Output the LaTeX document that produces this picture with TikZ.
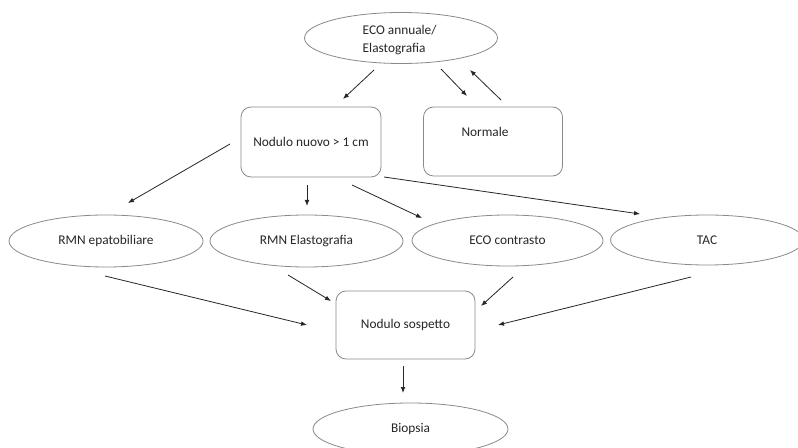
\documentclass[tikz,border=0pt]{standalone}
\usepackage{fontspec}
\setmainfont{Carlito}
\usetikzlibrary{shapes.geometric,arrows.meta}
\definecolor{edge}{HTML}{8A8A8A}
\definecolor{ink}{HTML}{262626}
\newcommand\myconn[4]{\draw[arr] ([shift={#2}]#1.center) -- ([shift={#4}]#3.center);}
\begin{document}
\begin{tikzpicture}[x=0.75pt,y=-0.75pt,
  every node/.style={font=\fontsize{10}{14.2}\selectfont, text=ink},
  oval/.style={ellipse, draw=edge, line width=0.6pt, inner sep=0pt},
  rbox/.style={rectangle, rounded corners=7.5pt, draw=edge, line width=0.6pt, inner sep=0pt},
  arr/.style={draw=ink, line width=0.6pt, -{Latex[length=4.5pt,width=3.5pt]}}]
\clip (0,0) rectangle (798,448);
\fill[white] (0,0) rectangle (798,448);
\node[oval, minimum width=193*0.75pt, minimum height=51*0.75pt] (top) at (401,38) {};
\node[anchor=west, align=left] (toptxt) at (358,40) {ECO annuale/\\Elastografia};
\node[rbox, minimum width=140*0.75pt, minimum height=70*0.75pt] (nuovo) at (311,142) {Nodulo nuovo > 1 cm};
\node[rbox, minimum width=139*0.75pt, minimum height=69*0.75pt] (normale) at (493,141.5) {};
\node (normtxt) at (485,132) {Normale};
\node[oval, minimum width=194*0.75pt, minimum height=52*0.75pt] (epa) at (106,241) {RMN epatobiliare};
\node[oval, minimum width=193*0.75pt, minimum height=52*0.75pt] (rmnel) at (306.5,241) {RMN Elastografia};
\node[oval, minimum width=191*0.75pt, minimum height=51*0.75pt] (ecoc) at (507.5,240.5) {ECO contrasto};
\node[oval, minimum width=193*0.75pt, minimum height=50*0.75pt] (tac) at (707,240) {TAC};
\node[rbox, minimum width=139*0.75pt, minimum height=68*0.75pt] (sosp) at (405.5,325) {Nodulo sospetto};
\node[oval, minimum width=195*0.75pt, minimum height=52*0.75pt] (biop) at (410.5,429) {Biopsia};
\myconn{top}{(-27,32)}{nuovo}{(32,-43)}
\myconn{top}{(40,31)}{normale}{(-26,-45.5)}
\myconn{normale}{(8,-41.5)}{top}{(69,32)}
\myconn{nuovo}{(-81,2)}{epa}{(22,-38)}
\myconn{nuovo}{(-4,43)}{rmnel}{(0.5,-35)}
\myconn{nuovo}{(41,43)}{ecoc}{(-85.5,-22.5)}
\myconn{nuovo}{(73,35)}{tac}{(-67,-26)}
\myconn{epa}{(-1,35)}{sosp}{(-98.5,0)}
\myconn{rmnel}{(-18.5,34)}{sosp}{(-74.5,-24)}
\myconn{ecoc}{(5.5,36.5)}{sosp}{(75.5,-19)}
\myconn{tac}{(-16,37)}{sosp}{(92.5,0)}
\myconn{sosp}{(-2.5,41)}{biop}{(-7.5,-36)}
\end{tikzpicture}
\end{document}
